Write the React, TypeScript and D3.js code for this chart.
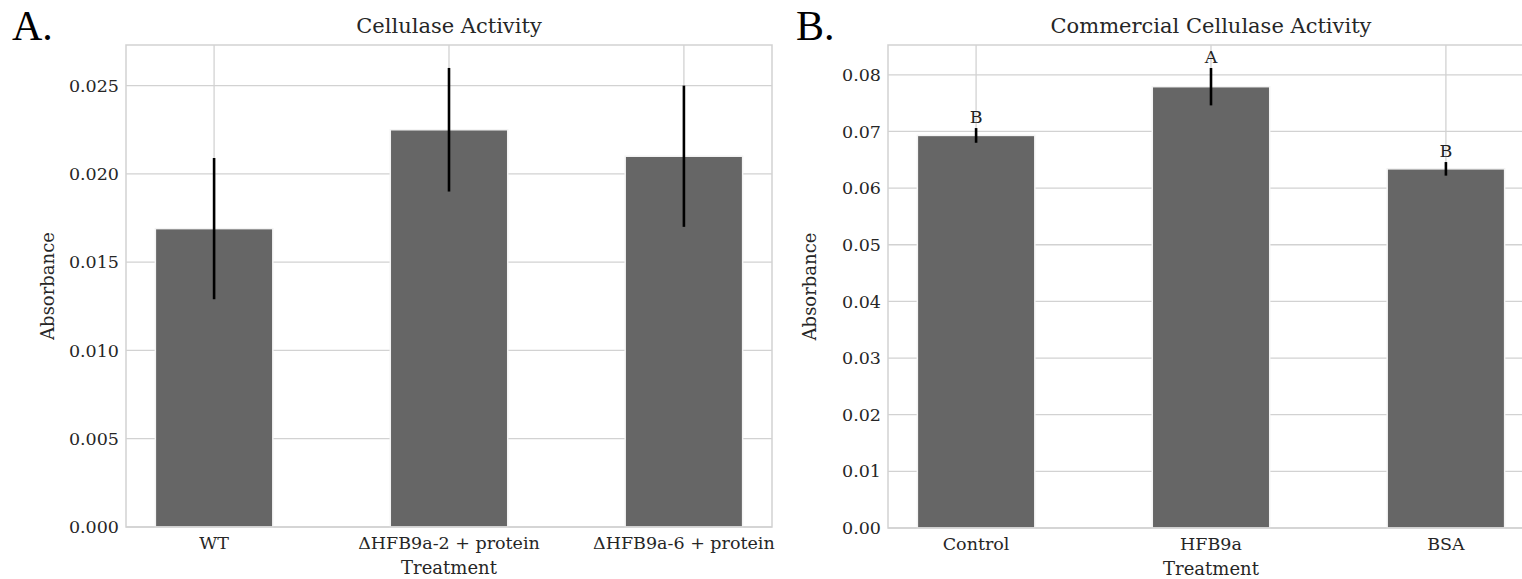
import React from "react";
import { scaleLinear, format } from "d3";

// panel A
const catsA = ["WT", "ΔHFB9a-2 + protein", "ΔHFB9a-6 + protein"];
const meanA = [0.0169, 0.0225, 0.021];
const errA = [0.004, 0.0035, 0.004];
const ticksA = [0, 0.005, 0.01, 0.015, 0.02, 0.025];

// panel B
const catsB = ["Control", "HFB9a", "BSA"];
const meanB = [0.0693, 0.0779, 0.0634];
const errB = [0.0013, 0.0033, 0.0012];
const lettersB = ["B", "A", "B"];
const ticksB = [0, 0.01, 0.02, 0.03, 0.04, 0.05, 0.06, 0.07, 0.08];

const FONT = "DejaVu Serif";
const GRID = "#d2d2d2";

function Panel(props: any) {
  const { left, right, top, bottom, cats, means, errs, ticks, fmt, title, letters } = props;
  // same limits as matplotlib: bars width .5, 5% margins
  const x = scaleLinear().domain([-0.375, 2.375]).range([left, right]);
  const ymax = Math.max(...means.map((m: number, i: number) => m + errs[i])) * 1.05;
  const y = scaleLinear().domain([0, ymax]).range([bottom, top]);
  const bw = x(0.5) - x(0);
  const f = format(fmt);

  return (
    <g>
      {/* grid */}
      {ticks.map((t: number) => (
        <line key={"gy" + t} x1={left} x2={right} y1={y(t)} y2={y(t)} stroke={GRID} strokeWidth={1.3} />
      ))}
      {cats.map((c: string, i: number) => (
        <line key={"gx" + c} x1={x(i)} x2={x(i)} y1={top} y2={bottom} stroke={GRID} strokeWidth={1.3} />
      ))}
      {/* bars */}
      {means.map((m: number, i: number) => (
        <rect
          key={"b" + i}
          x={x(i) - bw / 2}
          y={y(m)}
          width={bw}
          height={y(0) - y(m)}
          fill="#666666"
          stroke="#f4f4f4"
          strokeWidth={1.5}
        />
      ))}
      {/* error bars */}
      {means.map((m: number, i: number) => (
        <line
          key={"e" + i}
          x1={x(i)}
          x2={x(i)}
          y1={y(m - errs[i])}
          y2={y(m + errs[i])}
          stroke="#000"
          strokeWidth={2.6}
        />
      ))}
      {letters &&
        letters.map((l: string, i: number) => (
          <text
            key={"l" + i}
            x={x(i)}
            y={y(means[i] + errs[i]) - 5}
            textAnchor="middle"
            fontFamily={FONT}
            fontSize={17.5}
            fill="#222"
          >
            {l}
          </text>
        ))}
      {/* frame */}
      <rect x={left} y={top} width={right - left} height={bottom - top} fill="none" stroke={GRID} strokeWidth={1.5} />
      {/* y ticks */}
      {ticks.map((t: number) => (
        <text
          key={"ty" + t}
          x={left - 7}
          y={y(t)}
          dy="0.35em"
          textAnchor="end"
          fontFamily={FONT}
          fontSize={17.5}
          fill="#262626"
        >
          {f(t)}
        </text>
      ))}
      {/* x ticks */}
      {cats.map((c: string, i: number) => (
        <text
          key={"tx" + c}
          x={x(i)}
          y={bottom + 22}
          textAnchor="middle"
          fontFamily={FONT}
          fontSize={17.5}
          fill="#262626"
        >
          {c}
        </text>
      ))}
      <text
        x={(left + right) / 2}
        y={bottom + 47}
        textAnchor="middle"
        fontFamily={FONT}
        fontSize={18}
        fill="#262626"
      >
        Treatment
      </text>
      <text
        transform={`translate(${left - 72},${(top + bottom) / 2}) rotate(-90)`}
        textAnchor="middle"
        fontFamily={FONT}
        fontSize={18}
        fill="#262626"
      >
        Absorbance
      </text>
      <text
        x={(left + right) / 2}
        y={top - 12}
        textAnchor="middle"
        fontFamily={FONT}
        fontSize={21}
        fill="#262626"
      >
        {title}
      </text>
    </g>
  );
}

export default function App() {
  return (
    <svg
      width={1522}
      height={579}
      style={{ position: "absolute", left: 0, top: 0, background: "#fff" }}
    >
      <Panel
        left={126}
        right={772}
        top={45}
        bottom={527}
        cats={catsA}
        means={meanA}
        errs={errA}
        ticks={ticksA}
        fmt=".3f"
        title="Cellulase Activity"
      />
      <Panel
        left={888}
        right={1534}
        top={45}
        bottom={528}
        cats={catsB}
        means={meanB}
        errs={errB}
        ticks={ticksB}
        fmt=".2f"
        title="Commercial Cellulase Activity"
        letters={lettersB}
      />
      <text x={12} y={40} fontFamily="Liberation Serif" fontSize={42} fill="#000">
        A.
      </text>
      <text x={796} y={40} fontFamily="Liberation Serif" fontSize={42} fill="#000">
        B.
      </text>
    </svg>
  );
}
